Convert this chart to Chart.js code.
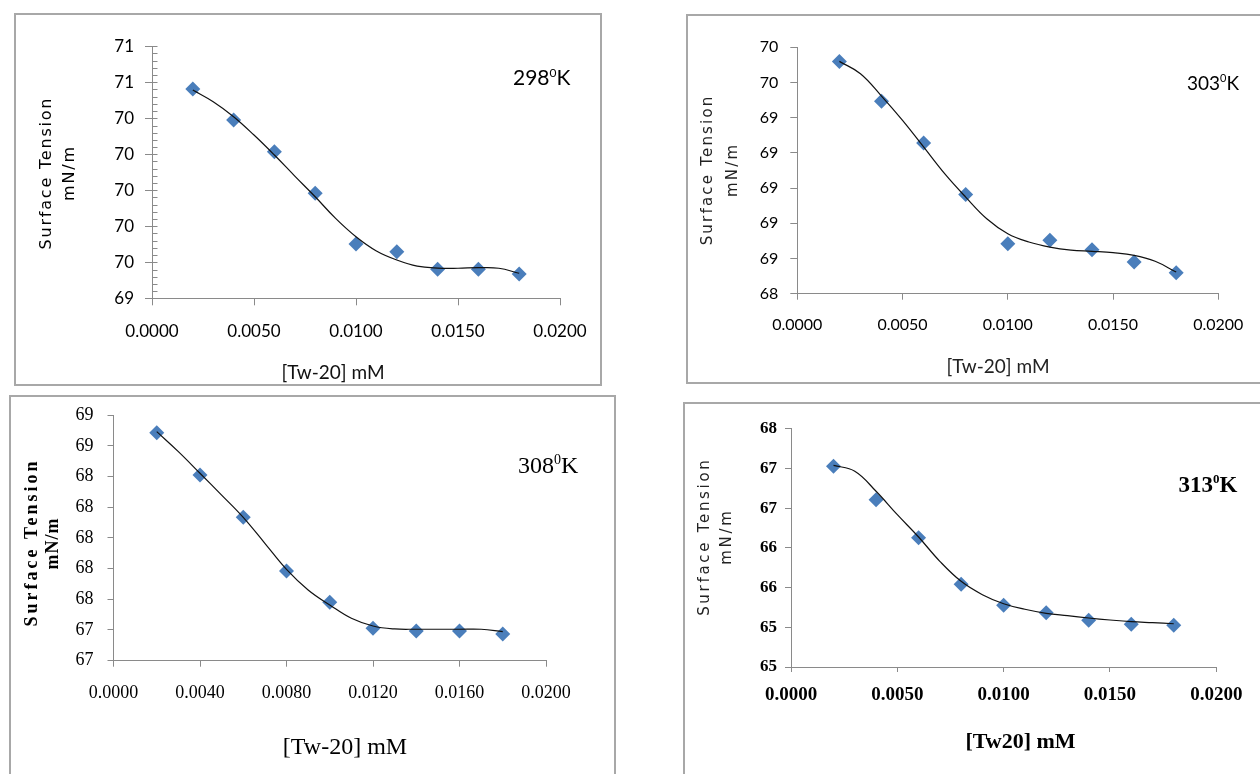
<!DOCTYPE html>
<html>
<head>
<meta charset="utf-8">
<script src="https://cdn.jsdelivr.net/npm/chart.js@4.4.1/dist/chart.umd.min.js"></script>
<style>
html,body{margin:0;padding:0;background:#fff;}
#page{position:relative;width:1260px;height:774px;overflow:hidden;background:#fff;}
.panel{position:absolute;border:2px solid #a8a8a8;box-sizing:border-box;}
canvas{position:absolute;left:0;top:0;}
</style>
</head>
<body>
<div id="page">
  <div class="panel" style="left:14px;top:13px;width:588px;height:373px"></div>
  <div class="panel" style="left:686px;top:14px;width:590px;height:370px"></div>
  <div class="panel" style="left:9px;top:395px;width:607px;height:400px"></div>
  <div class="panel" style="left:683px;top:402px;width:600px;height:400px"></div>
  <canvas id="c298" width="1260" height="774"></canvas>
  <canvas id="c303" width="1260" height="774"></canvas>
  <canvas id="c308" width="1260" height="774"></canvas>
  <canvas id="c313" width="1260" height="774"></canvas>
</div>
<script>
// ---------------- data ----------------
const concentration = [0.002, 0.004, 0.006, 0.008, 0.010, 0.012, 0.014, 0.016, 0.018];
const tension298 = [70.563, 70.391, 70.214, 69.983, 69.702, 69.659, 69.561, 69.561, 69.535];
const tension303 = [69.720, 69.493, 69.256, 68.963, 68.684, 68.703, 68.650, 68.580, 68.519];
const tension308 = [68.685, 68.410, 68.134, 67.784, 67.580, 67.411, 67.393, 67.393, 67.374];
const tension313 = [67.028, 66.607, 66.128, 65.542, 65.277, 65.184, 65.088, 65.038, 65.025];

const trendConc = [0.002, 0.003, 0.004, 0.005, 0.006, 0.007, 0.008, 0.009, 0.010, 0.011, 0.012, 0.013, 0.014, 0.015, 0.016, 0.017, 0.018];
const trend298 = [70.557, 70.492, 70.409, 70.307, 70.196, 70.079, 69.964, 69.844, 69.742, 69.663, 69.613, 69.579, 69.568, 69.567, 69.570, 69.567, 69.539];
const trend303 = [69.720, 69.650, 69.523, 69.385, 69.234, 69.082, 68.949, 68.826, 68.741, 68.694, 68.665, 68.648, 68.641, 68.633, 68.618, 68.584, 68.523];
const trend308 = [68.692, 68.562, 68.421, 68.279, 68.134, 67.965, 67.795, 67.661, 67.563, 67.476, 67.426, 67.407, 67.405, 67.405, 67.405, 67.405, 67.389];
const trend313 = [67.040, 66.965, 66.713, 66.418, 66.137, 65.831, 65.579, 65.411, 65.297, 65.227, 65.176, 65.146, 65.117, 65.092, 65.071, 65.058, 65.045];

const yTicks298 = [69.4, 69.6, 69.8, 70.0, 70.2, 70.4, 70.6, 70.8];
const yLabels298 = ['69', '70', '70', '70', '70', '70', '71', '71'];
const yTicks303 = [68.4, 68.6, 68.8, 69.0, 69.2, 69.4, 69.6, 69.8];
const yLabels303 = ['68', '69', '69', '69', '69', '69', '70', '70'];
const yTicks308 = [67.2, 67.4, 67.6, 67.8, 68.0, 68.2, 68.4, 68.6, 68.8];
const yLabels308 = ['67', '67', '68', '68', '68', '68', '68', '69', '69'];
const yTicks313 = [64.5, 65.0, 65.5, 66.0, 66.5, 67.0, 67.5];
const yLabels313 = ['65', '65', '66', '66', '67', '67', '68'];

const xTicksBy5 = [0, 0.005, 0.010, 0.015, 0.020];
const xLabelsBy5 = ['0.0000', '0.0050', '0.0100', '0.0150', '0.0200'];
const xTicksBy4 = [0, 0.004, 0.008, 0.012, 0.016, 0.020];
const xLabelsBy4 = ['0.0000', '0.0040', '0.0080', '0.0120', '0.0160', '0.0200'];

const xTitle1 = '[Tw-20] mM';
const xTitle2 = '[Tw20] mM';
const yTitleLine1 = 'Surface Tension';
const yTitleLine2 = 'mN/m';
const tempLabels = ['298', '303', '308', '313'];

// ---------------- helpers ----------------
const AXIS = '#8a8a8a';
const W = 1260, H = 774;
const Y_BOX = 70;   // width reserved for y tick labels
const X_BOX = 50;   // height reserved for x tick labels

const overlayPlugin = {
  id: 'overlay',
  afterDraw(chart, args, opts) {
    const ctx = chart.ctx;
    ctx.save();
    if (opts.minor) {
      const ys = chart.scales.y;
      const x0 = Math.round(chart.chartArea.left) + 0.5;
      ctx.strokeStyle = AXIS;
      ctx.lineWidth = 1;
      const n = Math.round((ys.max - ys.min) / opts.minor.step);
      for (let i = 0; i <= n; i++) {
        const v = ys.min + i * opts.minor.step;
        const py = Math.round(ys.getPixelForValue(v)) + 0.5;
        const len = (i % opts.minor.per === 0) ? opts.minor.majorLen : opts.minor.len;
        ctx.beginPath();
        ctx.moveTo(x0, py);
        ctx.lineTo(x0 + len, py);
        ctx.stroke();
      }
    }
    (opts.texts || []).forEach(t => {
      ctx.save();
      ctx.fillStyle = t.color || '#000';
      ctx.translate(t.x, t.y);
      if (t.rotate) ctx.rotate(t.rotate);
      if (t.parts) {
        ctx.textAlign = 'left';
        ctx.textBaseline = 'alphabetic';
        let cx = 0;
        t.parts.forEach(p => {
          ctx.font = p.font;
          ctx.fillText(p.text, cx, p.dy || 0);
          cx += ctx.measureText(p.text).width;
        });
      } else {
        ctx.font = t.font;
        try { ctx.letterSpacing = (t.spacing || 0) + 'px'; } catch (e) {}
        ctx.textAlign = 'center';
        ctx.textBaseline = 'middle';
        ctx.fillText(t.text, (t.spacing || 0) / 2, 0);
      }
      ctx.restore();
    });
    ctx.restore();
  }
};

function pairs(xs, ys) { return xs.map((x, i) => ({ x: x, y: ys[i] })); }

function makeChart(id, c) {
  return new Chart(document.getElementById(id), {
    type: 'scatter',
    data: {
      datasets: [
        {
          label: 'trend',
          data: pairs(trendConc, c.trend),
          showLine: true,
          borderColor: '#111',
          borderWidth: 1.2,
          pointRadius: 0,
          tension: 0.4,
          fill: false,
          clip: false
        },
        {
          label: 'measured',
          data: pairs(concentration, c.values),
          pointStyle: 'rectRot',
          pointRadius: 7.5,
          backgroundColor: '#4a7ebb',
          borderColor: '#4a7ebb',
          borderWidth: 0,
          showLine: false,
          clip: false
        }
      ]
    },
    options: {
      responsive: false,
      animation: false,
      events: [],
      layout: { padding: { left: c.area.l - Y_BOX, top: c.area.t, right: W - c.area.r, bottom: H - c.area.b - X_BOX } },
      plugins: {
        legend: { display: false },
        tooltip: { enabled: false },
        overlay: { minor: c.minor || null, texts: c.texts }
      },
      scales: {
        x: {
          type: 'linear',
          min: 0, max: 0.02,
          afterBuildTicks: s => { s.ticks = c.xTicks.map(v => ({ value: v })); },
          afterFit: s => { s.height = X_BOX; },
          border: { display: true, color: AXIS, width: 1 },
          grid: { drawOnChartArea: false, drawTicks: true, tickLength: c.xTickLen, color: AXIS, lineWidth: 1 },
          ticks: { callback: (v, i) => c.xLabels[i], font: c.xFont, color: '#000', padding: c.xPad, maxRotation: 0, autoSkip: false }
        },
        y: {
          type: 'linear',
          min: c.yTicks[0], max: c.yTicks[c.yTicks.length - 1],
          afterBuildTicks: s => { s.ticks = c.yTicks.map(v => ({ value: v })); },
          afterFit: s => { s.width = Y_BOX; },
          border: { display: true, color: AXIS, width: 1 },
          grid: { drawOnChartArea: false, drawTicks: true, tickLength: c.yTickLen, color: AXIS, lineWidth: 1 },
          ticks: { callback: (v, i) => c.yLabels[i], font: c.yFont, color: '#000', padding: c.yPad, autoSkip: false }
        }
      }
    },
    plugins: [overlayPlugin]
  });
}

const ROT = -Math.PI / 2;

// Panel 1 : 298 K
makeChart('c298', {
  values: tension298, trend: trend298,
  area: { l: 152, t: 46.3, r: 560, b: 298.3 },
  xTicks: xTicksBy5, xLabels: xLabelsBy5, yTicks: yTicks298, yLabels: yLabels298,
  xFont: { family: 'Lato', size: 17 }, yFont: { family: 'Lato', size: 17 },
  xTickLen: 7, xPad: 16, yTickLen: 7, yPad: 11,
  minor: { step: 0.04, per: 5, len: 5, majorLen: 5 },
  texts: [
    { text: yTitleLine1, x: 47, y: 174, rotate: ROT, font: '16px "DejaVu Sans"', spacing: 1.8, color: '#000' },
    { text: yTitleLine2, x: 70, y: 174, rotate: ROT, font: '16px "DejaVu Sans"', spacing: 1.8, color: '#000' },
    { text: xTitle1, x: 333, y: 373, font: '19px Lato', color: '#111' },
    { x: 513, y: 85, parts: [
      { text: tempLabels[0], font: '21px Lato' },
      { text: '0', font: '12px Lato', dy: -8 },
      { text: 'K', font: '21px Lato' }
    ] }
  ]
});

// Panel 2 : 303 K
makeChart('c303', {
  values: tension303, trend: trend303,
  area: { l: 797.3, t: 47.3, r: 1218.3, b: 293.7 },
  xTicks: xTicksBy5, xLabels: xLabelsBy5, yTicks: yTicks303, yLabels: yLabels303,
  xFont: { family: 'Lato', size: 16 }, yFont: { family: 'Lato', size: 16 },
  xTickLen: 6, xPad: 16, yTickLen: 7, yPad: 12,
  texts: [
    { text: yTitleLine1, x: 708, y: 171, rotate: ROT, font: '15px "DejaVu Sans"', spacing: 2.2, color: '#222' },
    { text: yTitleLine2, x: 733, y: 171, rotate: ROT, font: '15px "DejaVu Sans"', spacing: 2.2, color: '#222' },
    { text: xTitle1, x: 998, y: 367, font: '19px Lato', color: '#222' },
    { x: 1187, y: 90, parts: [
      { text: tempLabels[1], font: '19px Lato' },
      { text: '0', font: '11px Lato', dy: -8 },
      { text: 'K', font: '19px Lato' }
    ] }
  ]
});

// Panel 3 : 308 K
makeChart('c308', {
  values: tension308, trend: trend308,
  area: { l: 113.5, t: 415.1, r: 546, b: 660.7 },
  xTicks: xTicksBy4, xLabels: xLabelsBy4, yTicks: yTicks308, yLabels: yLabels308,
  xFont: { family: '"Liberation Serif"', size: 18 }, yFont: { family: '"Liberation Serif"', size: 18 },
  xTickLen: 6, xPad: 16, yTickLen: 6, yPad: 14,
  texts: [
    { text: yTitleLine1, x: 32, y: 544, rotate: ROT, font: 'bold 18px "Liberation Serif"', spacing: 3, color: '#000' },
    { text: yTitleLine2, x: 53, y: 544, rotate: ROT, font: 'bold 18px "Liberation Serif"', spacing: 1, color: '#000' },
    { text: xTitle1, x: 345, y: 748, font: '24px "Liberation Serif"', color: '#000' },
    { x: 518, y: 473, parts: [
      { text: tempLabels[2], font: '24px "Liberation Serif"' },
      { text: '0', font: '14px "Liberation Serif"', dy: -9 },
      { text: 'K', font: '24px "Liberation Serif"' }
    ] }
  ]
});

// Panel 4 : 313 K
makeChart('c313', {
  values: tension313, trend: trend313,
  area: { l: 791, t: 428.8, r: 1216.3, b: 667 },
  xTicks: xTicksBy5, xLabels: xLabelsBy5, yTicks: yTicks313, yLabels: yLabels313,
  xFont: { family: '"Liberation Serif"', size: 19, weight: 'bold' }, yFont: { family: '"Liberation Serif"', size: 17, weight: 'bold' },
  xTickLen: 5, xPad: 12, yTickLen: 6, yPad: 8,
  texts: [
    { text: yTitleLine1, x: 705, y: 538, rotate: ROT, font: '15px "DejaVu Sans"', spacing: 2.7, color: '#222' },
    { text: yTitleLine2, x: 727, y: 538, rotate: ROT, font: '15px "DejaVu Sans"', spacing: 2.7, color: '#222' },
    { text: xTitle2, x: 1020.5, y: 742, font: 'bold 22px "Liberation Serif"', color: '#000' },
    { x: 1178.5, y: 491.7, parts: [
      { text: tempLabels[3], font: 'bold 23px "Liberation Serif"' },
      { text: '0', font: 'bold 13px "Liberation Serif"', dy: -9 },
      { text: 'K', font: 'bold 23px "Liberation Serif"' }
    ] }
  ]
});
</script>
</body>
</html>
